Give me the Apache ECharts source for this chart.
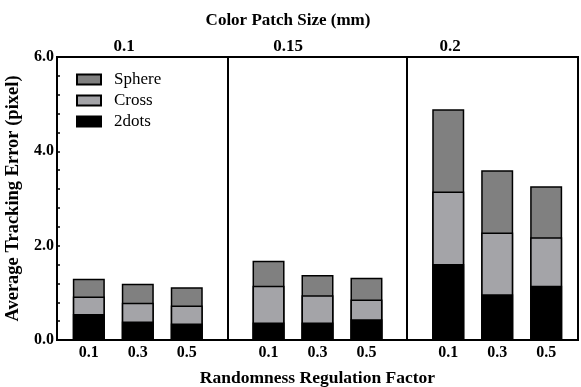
<!DOCTYPE html>
<html>
<head>
<meta charset="utf-8">
<script src="https://cdn.jsdelivr.net/npm/echarts@6/dist/echarts.min.js"></script>
<style>
    html, body { margin: 0; padding: 0; background: #fff; }
    #chart { width: 581px; height: 387px; }
</style>
</head>
<body>
<div id="chart"></div>
<script>
    // data
    var patchSizes = ['0.1', '0.15', '0.2'];
    var factors = ['0.1', '0.3', '0.5'];
    // segment heights per bar, order: patch 0.1 (0.1,0.3,0.5), patch 0.15 (...), patch 0.2 (...)
    var dots2 = [0.55, 0.39, 0.35, 0.37, 0.37, 0.44, 1.61, 0.97, 1.15];
    var cross = [0.37, 0.40, 0.38, 0.78, 0.58, 0.42, 1.54, 1.31, 1.03];
    var sphere = [0.38, 0.40, 0.39, 0.53, 0.43, 0.46, 1.74, 1.32, 1.08];
    var yTicks = [0, 2, 4, 6];

    var GROUP_PITCH = 3.67; // in bar slots
    var MARGIN = 0.65;
    var font = 'Liberation Serif';

    // x position of every bar, from group and factor index
    var xPos = [];
    var xLabel = {};
    patchSizes.forEach(function (p, g) {
        factors.forEach(function (f, i) {
            var x = +(g * GROUP_PITCH + i).toFixed(3);
            xPos.push(x);
            xLabel[x] = f;
        });
    });
    var dividers = [0, 1].map(function (g) {
        return g * GROUP_PITCH + (factors.length - 1) + (GROUP_PITCH - factors.length + 1) / 2;
    });

    // stacked tops (value axis, so stack by hand and overlap the bars)
    var topCross = dots2.map(function (v, k) { return v + cross[k]; });
    var topSphere = topCross.map(function (v, k) { return v + sphere[k]; });

    function pairs(vals) {
        return vals.map(function (v, k) { return [xPos[k], +v.toFixed(3)]; });
    }

    var myChart = echarts.init(document.getElementById('chart'));
    var barStyle = function (color) {
        return {color: color, borderColor: '#000', borderWidth: 1.5};
    };
    var boldText = {fontFamily: font, fontSize: 17, fontWeight: 'bold', fill: '#000', align: 'center', verticalAlign: 'middle'};
    var option = {
        animation: false,
        textStyle: {fontFamily: font},
        grid: {
            left: 57, right: 3, top: 57, bottom: 47,
            outerBoundsMode: 'none',
            containLabel: false,
            show: true, borderColor: '#000', borderWidth: 2, backgroundColor: 'transparent'
        },
        legend: {
            orient: 'vertical',
            left: 71, top: 66,
            icon: 'rect',
            itemWidth: 24, itemHeight: 10, itemGap: 4,
            data: ['Sphere', 'Cross', '2dots'],
            textStyle: {fontFamily: font, fontSize: 17, color: '#000', padding: [0, 0, 0, 8]}
        },
        xAxis: {
            type: 'value',
            min: -MARGIN,
            max: 2 * GROUP_PITCH + factors.length - 1 + MARGIN,
            splitLine: {show: false},
            axisLine: {show: false},
            axisTick: {show: false},
            axisLabel: {
                customValues: xPos,
                margin: 5,
                fontFamily: font, fontSize: 16, fontWeight: 'bold', color: '#000',
                formatter: function (v) { return xLabel[+v.toFixed(3)] || ''; }
            },
            name: 'Randomness Regulation Factor',
            nameLocation: 'middle',
            nameGap: 29,
            nameTextStyle: {fontFamily: font, fontSize: 17.5, fontWeight: 'bold', color: '#000'}
        },
        yAxis: {
            type: 'value',
            min: 0, max: 6, interval: 2,
            splitLine: {show: false},
            axisLine: {show: true, onZero: false, lineStyle: {color: '#000', width: 2}},
            axisTick: {show: true, inside: true, length: 3, lineStyle: {color: '#000', width: 1.5}},
            minorTick: {show: true, splitNumber: 5, length: 3, lineStyle: {color: '#000', width: 1.5}},
            axisLabel: {
                margin: 3,
                fontFamily: font, fontSize: 16, fontWeight: 'bold', color: '#000',
                formatter: function (v) { return yTicks.indexOf(v) >= 0 ? v.toFixed(1) : ''; }
            },
            name: 'Average Tracking Error (pixel)',
            nameLocation: 'middle',
            nameGap: 27,
            nameTextStyle: {fontFamily: font, fontSize: 18.5, fontWeight: 'bold', color: '#000'}
        },
        graphic: [
            {type: 'text', x: 288, y: 21, style: Object.assign({text: 'Color Patch Size (mm)'}, boldText)},
            {type: 'text', x: 124, y: 47, style: Object.assign({text: patchSizes[0]}, boldText)},
            {type: 'text', x: 288, y: 47, style: Object.assign({text: patchSizes[1]}, boldText)},
            {type: 'text', x: 450, y: 47, style: Object.assign({text: patchSizes[2]}, boldText)}
        ],
        series: [{
            name: 'Sphere', type: 'bar', barWidth: 32, barGap: '-100%',
            itemStyle: barStyle('#808080'),
            data: pairs(topSphere),
            markLine: {
                silent: true, symbol: 'none', label: {show: false},
                lineStyle: {color: '#000', width: 2, type: 'solid'},
                data: dividers.map(function (d) { return {xAxis: d}; })
            }
        }, {
            name: 'Cross', type: 'bar', barWidth: 32, barGap: '-100%',
            itemStyle: barStyle('#a4a4a8'),
            data: pairs(topCross)
        }, {
            name: '2dots', type: 'bar', barWidth: 32, barGap: '-100%',
            itemStyle: barStyle('#000000'),
            data: pairs(dots2)
        }]
    };
    myChart.setOption(option);
</script>
</body>
</html>
